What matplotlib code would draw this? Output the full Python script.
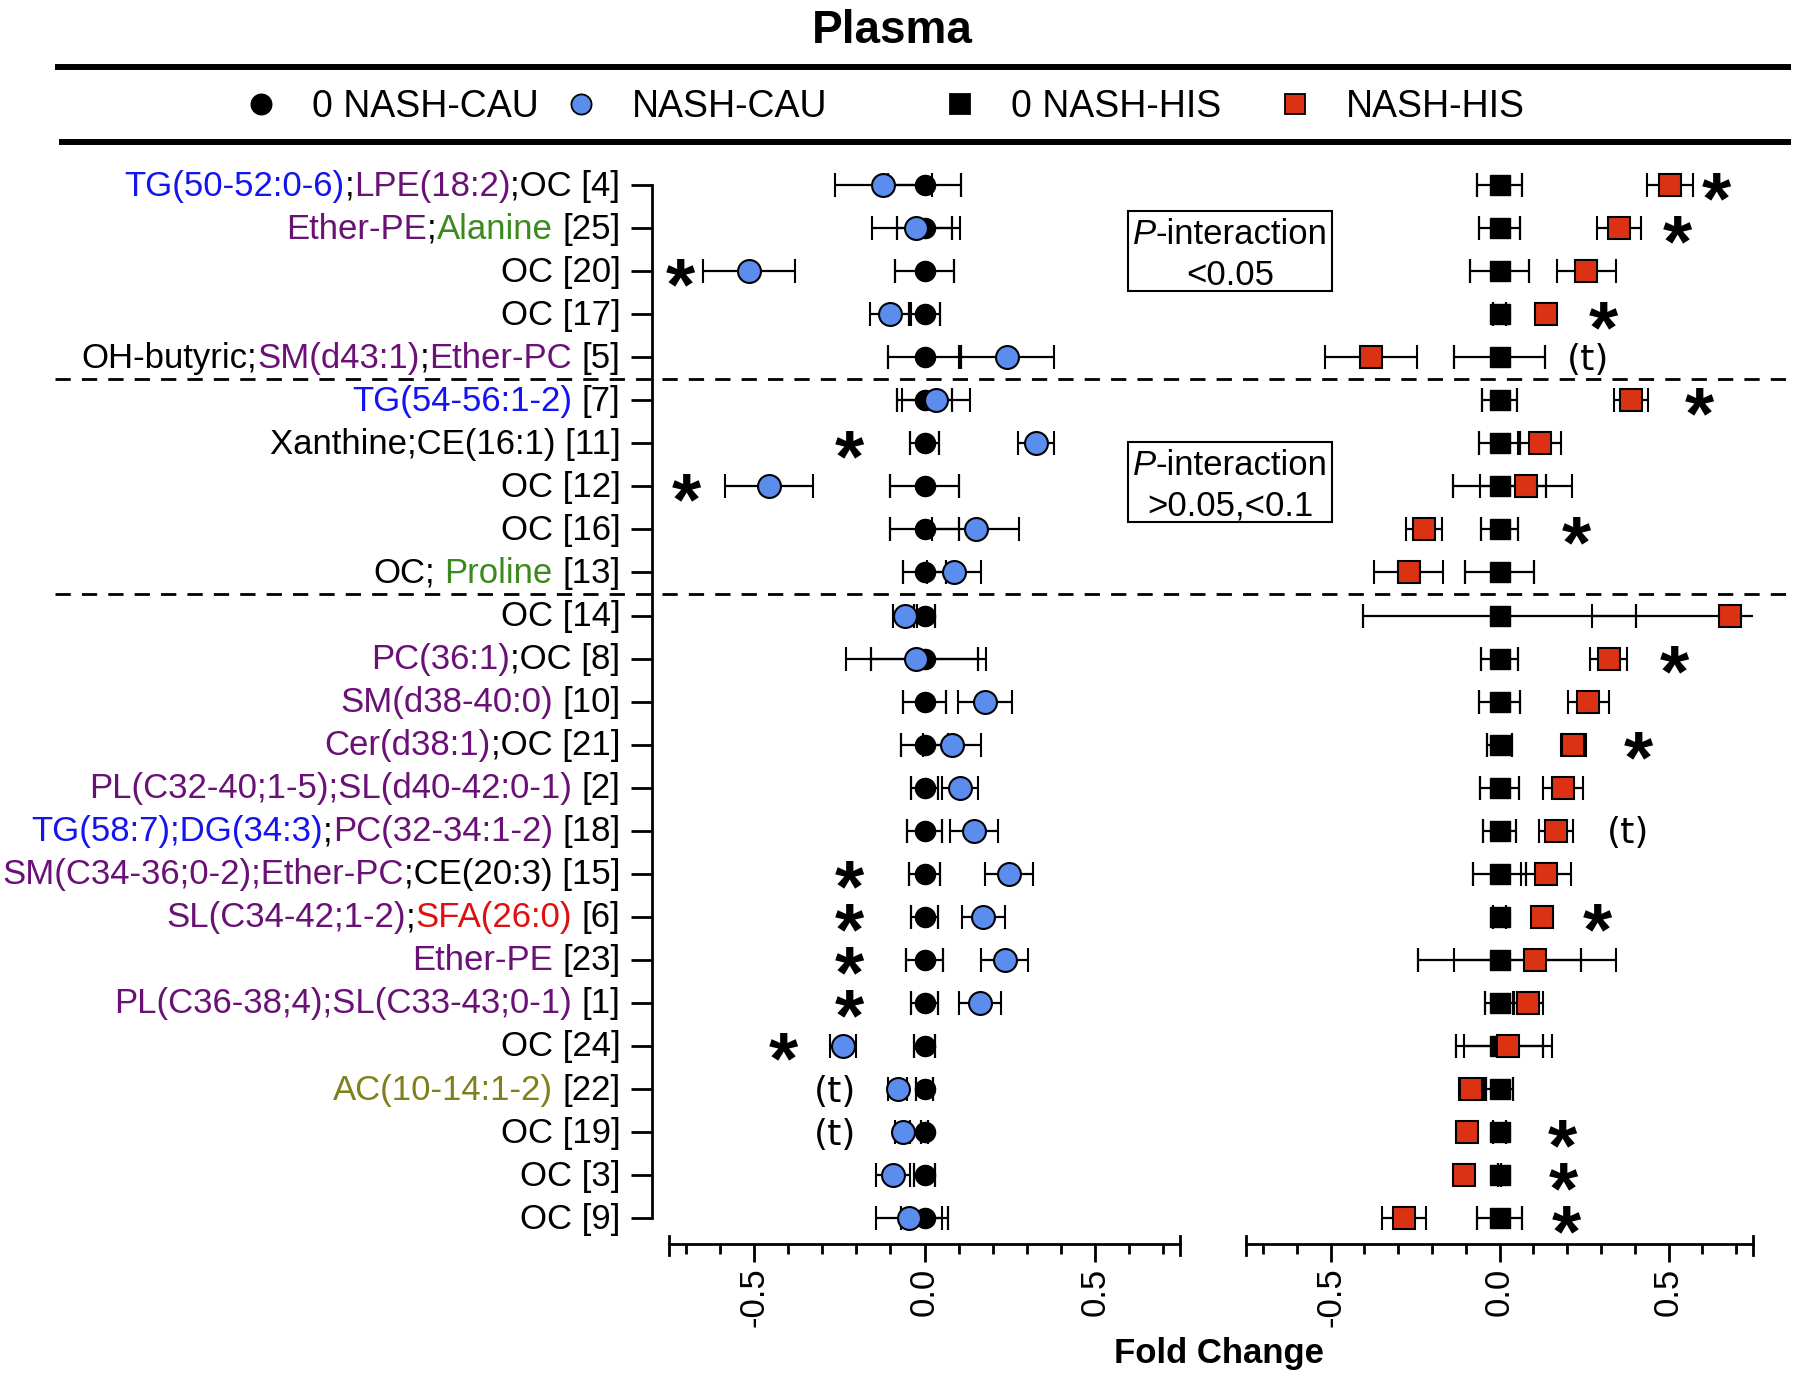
import numpy as np
import matplotlib
matplotlib.use("Agg")
import matplotlib.pyplot as plt
from matplotlib import transforms
from matplotlib.patches import Rectangle
from matplotlib.font_manager import FontProperties

FONT = "Liberation Sans"
plt.rcParams["font.family"] = [FONT, "DejaVu Sans"]

# ---------------------------------------------------------------- data
# label pieces: (text, lipid class key) ; class key picks the text colour
LABELS = [
    [("TG(50-52:0-6)", "tg"), (";", ""), ("LPE(18:2)", "pl"), (";OC [4]", "")],
    [("Ether-PE", "pl"), (";", ""), ("Alanine", "aa"), (" [25]", "")],
    [("OC [20]", "")],
    [("OC [17]", "")],
    [("OH-butyric;", ""), ("SM(d43:1)", "pl"), (";", ""), ("Ether-PC", "pl"), (" [5]", "")],
    [("TG(54-56:1-2)", "tg"), (" [7]", "")],
    [("Xanthine;CE(16:1) [11]", "")],
    [("OC [12]", "")],
    [("OC [16]", "")],
    [("OC;", ""), (" Proline", "aa"), (" [13]", "")],
    [("OC [14]", "")],
    [("PC(36:1)", "pl"), (";OC [8]", "")],
    [("SM(d38-40:0)", "pl"), (" [10]", "")],
    [("Cer(d38:1)", "pl"), (";OC [21]", "")],
    [("PL(C32-40;1-5);SL(d40-42:0-1)", "pl"), (" [2]", "")],
    [("TG(58:7);DG(34:3)", "tg"), (";", ""), ("PC(32-34:1-2)", "pl"), (" [18]", "")],
    [("SM(C34-36;0-2);Ether-PC", "pl"), (";CE(20:3) [15]", "")],
    [("SL(C34-42;1-2)", "pl"), (";", ""), ("SFA(26:0)", "fa"), (" [6]", "")],
    [("Ether-PE", "pl"), (" [23]", "")],
    [("PL(C36-38;4);SL(C33-43;0-1)", "pl"), (" [1]", "")],
    [("OC [24]", "")],
    [("AC(10-14:1-2)", "ac"), (" [22]", "")],
    [("OC [19]", "")],
    [("OC [3]", "")],
    [("OC [9]", "")],
]
GROUP_SIZES = [5, 5, 15]
GROUP_TEXT = ["<0.05", ">0.05,<0.1"]

# reference groups sit at fold change 0
REF_FC = [0.0] * len(LABELS)
CAU_ZERO_ERR = [0.107, 0.082, 0.086, 0.045, 0.108, 0.08, 0.043, 0.1, 0.1, 0.062,
                0.03, 0.157, 0.062, 0.068, 0.04, 0.052, 0.046, 0.04, 0.053, 0.04,
                0.03, 0.025, 0.01, 0.032, 0.07]
CAU_FC = [-0.121, -0.025, -0.515, -0.1, 0.241, 0.034, 0.326, -0.456, 0.15, 0.087,
          -0.057, -0.025, 0.178, 0.081, 0.104, 0.145, 0.249, 0.173, 0.235, 0.164,
          -0.24, -0.079, -0.064, -0.093, -0.045]
CAU_ERR = [0.143, 0.13, 0.135, 0.06, 0.14, 0.1, 0.053, 0.13, 0.127, 0.08,
           0.036, 0.205, 0.08, 0.085, 0.053, 0.07, 0.07, 0.062, 0.068, 0.062,
           0.038, 0.028, 0.022, 0.05, 0.096]

HIS_ZERO_ERR = [0.068, 0.062, 0.087, 0.02, 0.136, 0.051, 0.06, 0.137, 0.054, 0.102,
                0.405, 0.055, 0.061, 0.038, 0.057, 0.05, 0.077, 0.02, 0.24, 0.044,
                0.13, 0.04, 0.02, 0.005, 0.067]
HIS_FC = [0.505, 0.354, 0.257, 0.138, -0.381, 0.39, 0.119, 0.078, -0.224, -0.268,
          0.683, 0.323, 0.263, 0.218, 0.189, 0.167, 0.138, 0.125, 0.104, 0.085,
          0.025, -0.083, -0.096, -0.106, -0.283]
HIS_ERR = [0.068, 0.065, 0.088, 0.012, 0.136, 0.05, 0.063, 0.136, 0.053, 0.102,
           0.41, 0.055, 0.061, 0.037, 0.059, 0.049, 0.075, 0.012, 0.24, 0.045,
           0.13, 0.038, 0.01, 0.01, 0.066]

# significance marks (row index, x position in fold change units)
CAU_STAR_ROWS = [2, 6, 7, 16, 17, 18, 19, 20]
CAU_STAR_X = [-0.717, -0.219, -0.70, -0.219, -0.219, -0.219, -0.22, -0.414]
CAU_TREND_ROWS = [21, 22]
CAU_TREND_X = [-0.263, -0.263]
HIS_STAR_ROWS = [0, 1, 3, 5, 8, 11, 13, 17, 22, 23, 24]
HIS_STAR_X = [0.641, 0.525, 0.307, 0.59, 0.227, 0.518, 0.412, 0.29, 0.187, 0.19, 0.199]
HIS_TREND_ROWS = [4, 15]
HIS_TREND_X = [0.262, 0.379]

MAJOR_TICKS = [-0.5, 0.0, 0.5]
TICK_LABELS = ["-0.5", "0.0", "0.5"]
MINOR_TICKS = [-0.7, -0.6, -0.4, -0.3, -0.2, -0.1, 0.1, 0.2, 0.3, 0.4, 0.6, 0.7]
LEGEND_NAMES = ["0 NASH-CAU", "NASH-CAU", "0 NASH-HIS", "NASH-HIS"]

# ---------------------------------------------------------------- styles
CLASS_COLORS = {"": "black", "tg": "#1414F0", "pl": "#6A1077",
                "aa": "#3C8A1E", "ac": "#80801A", "fa": "#E01010"}
BLUE = "#5B8DEF"
RED = "#DC3214"
W, H = 1800, 1380
LBL = 25


fig = plt.figure(figsize=(W / 100, H / 100), dpi=100)
deco = fig.add_axes([0, 0, 1, 1])
deco.set_xlim(0, W)
deco.set_ylim(H, 0)
deco.axis("off")

ax_l = fig.add_axes([669 / W, 136 / H, 511 / W, 1080.5 / H])
ax_r = fig.add_axes([1246 / W, 136 / H, 507 / W, 1080.5 / H])
n = len(LABELS)
rows = np.arange(n)

for ax in (ax_l, ax_r):
    ax.set_xlim(-0.75, 0.75)
    ax.set_ylim(24.6, -0.5)
    ax.patch.set_alpha(0)
    for s in ("top", "right"):
        ax.spines[s].set_visible(False)
    ax.spines["bottom"].set_linewidth(2)
    ax.set_xticks(MAJOR_TICKS)
    ax.set_xticklabels(TICK_LABELS, rotation=90, fontsize=LBL)
    ax.set_xticks(MINOR_TICKS, minor=True)
    ax.tick_params(axis="x", which="major", length=13, width=2, pad=4)
    ax.tick_params(axis="x", which="minor", length=7.5, width=2)
    for lim in ax.get_xlim():
        ax.axvline(lim, ymin=-0.0102, ymax=0.0074, color="black", lw=2, clip_on=False)

ax_l.spines["left"].set_position(("outward", 12))
ax_l.spines["left"].set_bounds(0, n - 1)
ax_l.spines["left"].set_linewidth(2)
ax_l.set_yticks(rows)
ax_l.set_yticklabels([])
ax_l.tick_params(axis="y", length=15, width=2)
ax_r.spines["left"].set_visible(False)
ax_r.set_yticks([])

eb = dict(ls="none", ecolor="black", elinewidth=1.6, capsize=8.3, capthick=1.6, mec="black")
ax_l.errorbar(REF_FC, rows, xerr=CAU_ZERO_ERR, fmt="o", ms=14.5, mfc="black", zorder=3, **eb)
ax_l.errorbar(CAU_FC, rows, xerr=CAU_ERR, fmt="o", ms=16.5, mfc=BLUE, mew=1.5, zorder=4, **eb)
ax_r.errorbar(REF_FC, rows, xerr=HIS_ZERO_ERR, fmt="s", ms=15, mfc="black", zorder=3, **eb)
ax_r.errorbar(HIS_FC, rows, xerr=HIS_ERR, fmt="s", ms=16, mfc=RED, mew=1.5, zorder=4, **eb)


def marks(ax, xs, rs, text, size, dy, family, weight="normal"):
    for x, r in zip(xs, rs):
        ax.annotate(text, xy=(x, r), xytext=(0, dy), textcoords="offset points",
                    ha="center", va="baseline", fontsize=size, family=family,
                    weight=weight, annotation_clip=False)


STAR = 54
STAR_DY = -(0.56 * STAR - 3.0)
marks(ax_l, CAU_STAR_X, CAU_STAR_ROWS, "*", STAR, STAR_DY, FONT, "bold")
marks(ax_r, HIS_STAR_X, HIS_STAR_ROWS, "*", STAR, STAR_DY, FONT, "bold")
marks(ax_l, CAU_TREND_X, CAU_TREND_ROWS, "(t)", 26, -9, "DejaVu Sans")
marks(ax_r, HIS_TREND_X, HIS_TREND_ROWS, "(t)", 26, -9, "DejaVu Sans")

# ---------------------------------------------------------------- text pieces
renderer = fig.canvas.get_renderer()


def draw_pieces(x, y, pieces, ha, size, weight="normal"):
    """Draw coloured/styled pieces as one line on deco (pixel coords, y = baseline)."""
    full = "".join(p[0] for p in pieces)
    fp = FontProperties(family=FONT, size=size, weight=weight)

    def width(s):
        return renderer.get_text_width_height_descent(s, fp, ismath=False)[0]

    total = width(full)
    x0 = {"left": x, "center": x - total / 2, "right": x - total}[ha]
    k = 0
    for text, color, style in pieces:
        stripped = text.lstrip(" ")
        start = k + len(text) - len(stripped)
        off = 0.0 if start == 0 else width(full[:start + 1]) - width(full[start])
        deco.text(x0 + off, y, stripped, color=color, fontsize=size, fontstyle=style,
                  weight=weight, ha="left", va="baseline")
        k += len(text)


to_pix = ax_l.transData + deco.transData.inverted()
spine_px = 669 - 12 * 100 / 72
label_right = spine_px - 15 * 100 / 72 - 11
for r, pieces in enumerate(LABELS):
    y = to_pix.transform((0, r))[1]
    draw_pieces(label_right, y + 10.5,
                [(t, CLASS_COLORS[c], "normal") for t, c in pieces], "right", LBL)

# group separators
sep_trans = transforms.blended_transform_factory(deco.transData, ax_l.transData)
for b in np.cumsum(GROUP_SIZES)[:-1] - 0.5:
    deco.plot([55, 1791], [b, b], transform=sep_trans, color="black", lw=2,
              ls=(0, (5.5, 4)))

# P-interaction boxes
for (top, bottom), txt in zip([(211, 291), (442, 522)], GROUP_TEXT):
    deco.add_patch(Rectangle((1128, top), 204, bottom - top, fill=False,
                             ec="black", lw=1.5))
    draw_pieces(1230, top + 33, [("P", "black", "italic"),
                                 ("-interaction", "black", "normal")], "center", LBL)
    draw_pieces(1230, top + 74, [(txt, "black", "normal")], "center", LBL)

# title, legend and axis title
deco.text(892, 43, "Plasma", ha="center", va="baseline", fontsize=33, weight="bold")
deco.plot([55, 1791], [67, 67], color="black", lw=4.3, solid_capstyle="butt")
deco.plot([59, 1791], [142, 142], color="black", lw=4.3, solid_capstyle="butt")

legend_style = [("o", "black"), ("o", BLUE), ("s", "black"), ("s", RED)]
for name, (mk, col), xm in zip(LEGEND_NAMES, legend_style, [261, 581, 960, 1295]):
    deco.plot([xm], [104], mk, ms=14.5, mfc=col, mec="black", mew=1.3)
    deco.text(xm + 51, 117, name, fontsize=27, ha="left", va="baseline")

deco.text(1219, 1363, "Fold Change", ha="center", va="baseline", fontsize=LBL,
          weight="bold")

fig.savefig("out.png", dpi=100)
